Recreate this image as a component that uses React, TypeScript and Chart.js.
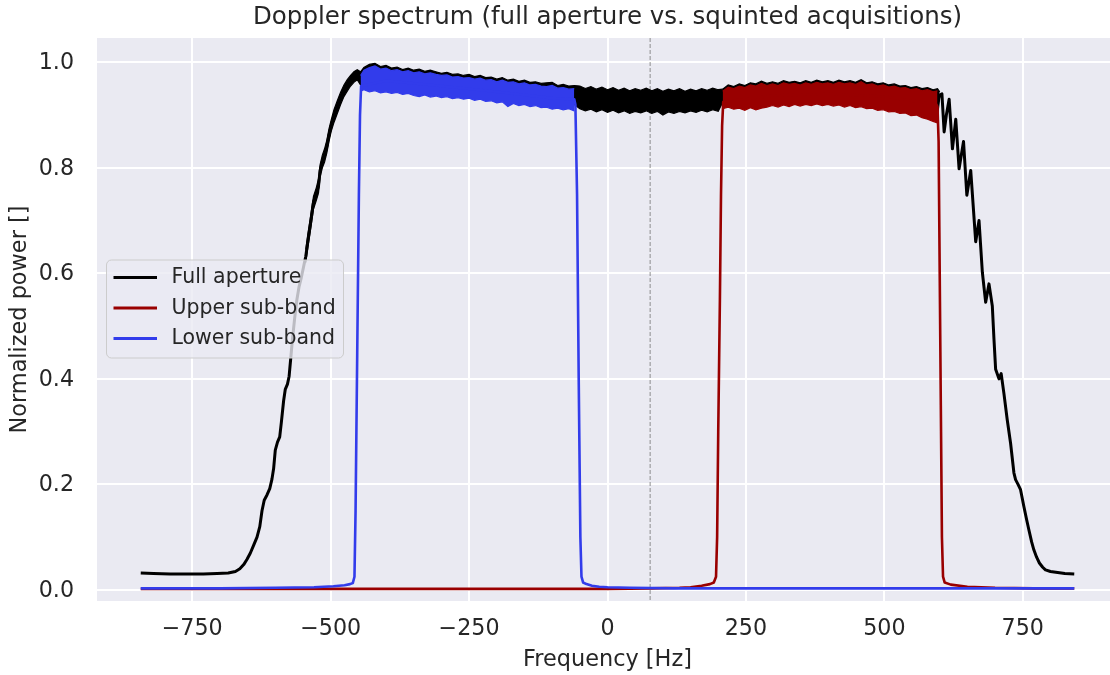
import React, { useEffect, useRef } from 'react';
import { Chart, registerables } from 'chart.js';

Chart.register(...registerables);

const FONT = '"DejaVu Sans", sans-serif';
const TEXT = '#262626';

const titleText = 'Doppler spectrum (full aperture vs. squinted acquisitions)';
const xLabel = 'Frequency [Hz]';
const yLabel = 'Normalized power []';
const xTicks = [-750, -500, -250, 0, 250, 500, 750];
const yTicks = [0.0, 0.2, 0.4, 0.6, 0.8, 1.0];
const markerFreq = 77;

const seriesNames = ['Full aperture', 'Upper sub-band', 'Lower sub-band'];
const seriesColors = ['#000000', '#990000', '#323ceb'];

// Full aperture: main trace
const fullFreq = [-843,-820,-790,-760,-730,-705,-685,-672,-664,-657,-651,-645,-639,-633,-628,-624,-620,-615,-610,-606,-603,-600,-596,-592,-589,-585,-582,-578,-575,-572,-569,-565,-561,-557,-553,-549,-545,-541,-537,-534,-531,-526,-522,-519,-515,-511,-507,-503,-499,-494,-488,-482,-476,-470,-464,-458,-452,-446,-440,-400,-300,-200,-100,-60,-50,0,100,200,300,400,500,596,600,604,608,612,617,623,629,635,643,649,656,665,671,677,683,689,695,698,701,707,711,716,722,728,734,737,741,746,752,757,761,766,770,775,780,786,791,800,813,826,843];
const fullPower = [0.032,0.031,0.030,0.030,0.030,0.031,0.032,0.035,0.040,0.048,0.058,0.070,0.085,0.100,0.120,0.150,0.170,0.180,0.192,0.210,0.230,0.265,0.280,0.290,0.318,0.358,0.380,0.390,0.405,0.440,0.475,0.515,0.550,0.575,0.592,0.612,0.632,0.662,0.690,0.712,0.735,0.750,0.765,0.795,0.812,0.823,0.840,0.862,0.880,0.898,0.915,0.932,0.946,0.956,0.965,0.972,0.977,0.980,0.972,0.968,0.958,0.948,0.938,0.932,0.932,0.928,0.925,0.928,0.937,0.940,0.936,0.925,0.938,0.940,0.868,0.900,0.930,0.836,0.892,0.798,0.850,0.748,0.795,0.660,0.700,0.602,0.545,0.580,0.538,0.475,0.418,0.400,0.410,0.372,0.322,0.278,0.222,0.209,0.201,0.190,0.158,0.133,0.114,0.091,0.076,0.062,0.051,0.043,0.038,0.035,0.033,0.031,0.030];

// Full aperture: noise envelope, segment by segment
const riseFreq = [-545,-541,-537,-534,-531,-526,-522,-519,-515,-511,-507,-503,-499,-494,-488,-482,-476,-470,-464,-458,-452];
const riseUpper = [0.645,0.676,0.703,0.725,0.746,0.762,0.779,0.806,0.824,0.836,0.852,0.874,0.891,0.910,0.927,0.943,0.957,0.967,0.975,0.982,0.986];
const riseLower = [0.620,0.650,0.678,0.700,0.722,0.738,0.752,0.783,0.800,0.811,0.828,0.850,0.869,0.886,0.903,0.920,0.935,0.945,0.955,0.962,0.967];

const lowBandFreq = [-446,-440,-430,-420,-410,-400,-390,-380,-370,-360,-350,-340,-330,-320,-310,-300,-290,-280,-270,-260,-250,-240,-230,-220,-210,-200,-190,-180,-170,-160,-150,-140,-130,-120,-110,-100,-90,-80,-70,-60];
const fullUpperLow = [0.982,0.990,0.996,0.998,0.992,0.994,0.989,0.991,0.986,0.989,0.985,0.987,0.983,0.985,0.982,0.979,0.981,0.977,0.978,0.975,0.977,0.973,0.975,0.971,0.972,0.968,0.971,0.966,0.968,0.964,0.966,0.962,0.963,0.960,0.961,0.962,0.956,0.958,0.955,0.956];
const fullLowerLow = [0.957,0.960,0.956,0.958,0.954,0.956,0.953,0.955,0.951,0.953,0.949,0.947,0.950,0.946,0.948,0.945,0.947,0.943,0.945,0.942,0.944,0.940,0.942,0.938,0.939,0.935,0.937,0.928,0.934,0.930,0.932,0.928,0.930,0.926,0.927,0.923,0.925,0.922,0.924,0.920];

const midFreq = [-50,-40,-30,-20,-10,0,10,20,30,40,50,60,70,80,90,100,110,120,130,140,150,160,170,180,190,200];
const fullUpperMid = [0.955,0.950,0.954,0.949,0.953,0.948,0.952,0.947,0.951,0.946,0.950,0.947,0.951,0.946,0.950,0.945,0.949,0.946,0.950,0.945,0.949,0.946,0.950,0.947,0.951,0.948];
const fullLowerMid = [0.912,0.908,0.911,0.906,0.910,0.905,0.909,0.904,0.908,0.903,0.907,0.904,0.908,0.903,0.907,0.900,0.906,0.903,0.907,0.904,0.908,0.905,0.909,0.906,0.910,0.907];

const highBandFreq = [208,218,228,238,248,258,268,278,288,298,308,318,328,338,348,358,368,378,388,398,408,418,428,438,448,458,468,478,488,498,508,518,528,538,548,558,568,578,588,596];
const fullUpperHigh = [0.949,0.957,0.954,0.959,0.956,0.961,0.959,0.964,0.960,0.963,0.960,0.965,0.962,0.964,0.961,0.965,0.962,0.966,0.963,0.965,0.962,0.966,0.963,0.965,0.962,0.967,0.961,0.963,0.959,0.961,0.957,0.959,0.955,0.956,0.952,0.954,0.950,0.952,0.948,0.950];
const fullLowerHigh = [0.924,0.927,0.923,0.925,0.921,0.926,0.922,0.925,0.927,0.930,0.927,0.931,0.928,0.932,0.929,0.932,0.930,0.933,0.930,0.932,0.929,0.931,0.927,0.930,0.926,0.928,0.924,0.925,0.921,0.922,0.918,0.919,0.915,0.916,0.911,0.912,0.907,0.904,0.900,0.897];

const endFreq = [600];
const endUpper = [0.944];
const endLower = [0.932];

// Upper sub-band (red)
const upperFreq = [-843,-200,0,80,130,150,170,185,192,196,198,200,203,205,207,209,300,400,500,594,596,598,600,602,604,606,609,620,650,700,770,843];
const upperPower = [0.002,0.002,0.002,0.003,0.004,0.005,0.008,0.011,0.014,0.025,0.100,0.300,0.550,0.750,0.880,0.925,0.937,0.940,0.935,0.920,0.915,0.850,0.600,0.350,0.100,0.025,0.014,0.010,0.006,0.004,0.003,0.003];
const upperBandTop = [0.945,0.953,0.950,0.955,0.952,0.957,0.955,0.960,0.956,0.959,0.956,0.961,0.958,0.960,0.957,0.961,0.958,0.962,0.959,0.961,0.958,0.962,0.959,0.961,0.958,0.963,0.957,0.959,0.955,0.957,0.953,0.955,0.951,0.952,0.948,0.950,0.946,0.948,0.944,0.946];
const upperBandBottom = [0.912,0.915,0.911,0.913,0.909,0.914,0.910,0.913,0.915,0.918,0.915,0.919,0.916,0.920,0.917,0.920,0.918,0.921,0.918,0.920,0.917,0.919,0.915,0.918,0.914,0.916,0.912,0.913,0.909,0.910,0.906,0.907,0.903,0.904,0.899,0.900,0.895,0.892,0.888,0.885];

// Lower sub-band (blue)
const lowerFreq = [-843,-700,-600,-530,-495,-475,-465,-460,-457,-455,-452,-449,-447,-445,-400,-300,-200,-100,-60,-58,-55,-52,-49,-47,-44,-38,-28,-15,0,40,120,843];
const lowerPower = [0.003,0.003,0.004,0.005,0.007,0.009,0.011,0.013,0.025,0.150,0.450,0.750,0.900,0.955,0.965,0.955,0.944,0.932,0.930,0.920,0.750,0.400,0.100,0.025,0.014,0.011,0.008,0.006,0.005,0.004,0.003,0.003];
const lowerBandTop = [0.975,0.985,0.990,0.993,0.987,0.989,0.984,0.986,0.982,0.984,0.980,0.982,0.978,0.980,0.977,0.975,0.976,0.972,0.973,0.970,0.971,0.968,0.970,0.966,0.967,0.963,0.966,0.962,0.963,0.959,0.961,0.957,0.958,0.955,0.954,0.956,0.951,0.952,0.949,0.950];
const lowerBandBottom = [0.945,0.948,0.944,0.946,0.942,0.944,0.941,0.943,0.939,0.941,0.937,0.935,0.938,0.934,0.936,0.933,0.935,0.931,0.933,0.930,0.932,0.928,0.930,0.926,0.927,0.923,0.925,0.916,0.922,0.918,0.920,0.916,0.918,0.914,0.915,0.911,0.913,0.910,0.912,0.908];

const pts = (xs: number[], ys: number[]) => xs.map((x, i) => ({ x, y: ys[i] }));

const fullBandFreq = [...riseFreq, ...lowBandFreq, ...midFreq, ...highBandFreq, ...endFreq];
const fullBandUpper = [...riseUpper, ...fullUpperLow, ...fullUpperMid, ...fullUpperHigh, ...endUpper];
const fullBandLower = [...riseLower, ...fullLowerLow, ...fullLowerMid, ...fullLowerHigh, ...endLower];

function bandPair(xs: number[], top: number[], bottom: number[], color: string, order: number) {
  const common = {
    borderColor: color,
    backgroundColor: color,
    borderWidth: 1.2,
    pointRadius: 0,
    tension: 0,
    order,
  };
  return [
    { ...common, data: pts(xs, top), fill: '+1' },
    { ...common, data: pts(xs, bottom), fill: false },
  ];
}

function lineSet(label: string, xs: number[], ys: number[], color: string, width: number, order: number) {
  return {
    label,
    legend: true,
    data: pts(xs, ys),
    borderColor: color,
    backgroundColor: color,
    borderWidth: width,
    borderJoinStyle: 'round',
    pointRadius: 0,
    tension: 0,
    fill: false,
    order,
  };
}

const bgPlugin = {
  id: 'bgPlugin',
  beforeDraw(chart: any) {
    const { ctx, chartArea: a, width, height } = chart;
    ctx.save();
    ctx.fillStyle = '#ffffff';
    ctx.fillRect(0, 0, width, height);
    ctx.fillStyle = '#EAEAF2';
    ctx.fillRect(a.left, a.top, a.right - a.left, a.bottom - a.top);
    ctx.restore();
  },
};

const markerPlugin = {
  id: 'markerPlugin',
  beforeDatasetsDraw(chart: any) {
    const { ctx, chartArea: a } = chart;
    const x = chart.scales.x.getPixelForValue(markerFreq);
    ctx.save();
    ctx.strokeStyle = 'rgba(110,110,110,0.75)';
    ctx.lineWidth = 1;
    ctx.setLineDash([4, 2]);
    ctx.beginPath();
    ctx.moveTo(x, a.top);
    ctx.lineTo(x, a.bottom);
    ctx.stroke();
    ctx.restore();
  },
};

const titlePlugin = {
  id: 'titlePlugin',
  afterDraw(chart: any) {
    const { ctx, chartArea: a } = chart;
    ctx.save();
    ctx.font = `24.5px ${FONT}`;
    ctx.fillStyle = TEXT;
    ctx.textAlign = 'center';
    ctx.textBaseline = 'middle';
    ctx.fillText(titleText, (a.left + a.right) / 2, 17.5);
    ctx.restore();
  },
};

const legendPlugin = {
  id: 'legendPlugin',
  afterDatasetsDraw(chart: any) {
    const { ctx, chartArea: a } = chart;
    const items = chart.data.datasets.filter((d: any) => d.legend);
    const bx = a.left + 9.5;
    const by = a.top + 222;
    const bw = 237;
    const bh = 98;
    ctx.save();
    ctx.beginPath();
    ctx.roundRect(bx, by, bw, bh, 5);
    ctx.fillStyle = 'rgba(234,234,242,0.8)';
    ctx.fill();
    ctx.strokeStyle = '#cccccc';
    ctx.lineWidth = 1;
    ctx.stroke();
    ctx.font = `20.5px ${FONT}`;
    ctx.textBaseline = 'middle';
    ctx.textAlign = 'left';
    items.forEach((d: any, i: number) => {
      const y = by + 17.5 + i * 30.5;
      ctx.strokeStyle = d.borderColor;
      ctx.lineWidth = 2.8;
      ctx.beginPath();
      ctx.moveTo(bx + 7, y);
      ctx.lineTo(bx + 50.5, y);
      ctx.stroke();
      ctx.fillStyle = TEXT;
      ctx.fillText(d.label, bx + 65, y + 0.5);
    });
    ctx.restore();
  },
};

export default function App() {
  const ref = useRef<HTMLCanvasElement>(null);

  useEffect(() => {
    const datasets: any[] = [
      ...bandPair(fullBandFreq, fullBandUpper, fullBandLower, seriesColors[0], 10),
      lineSet(seriesNames[0], fullFreq, fullPower, seriesColors[0], 3.0, 9),
      ...bandPair(highBandFreq, upperBandTop, upperBandBottom, seriesColors[1], 8),
      lineSet(seriesNames[1], upperFreq, upperPower, seriesColors[1], 2.6, 7),
      ...bandPair(lowBandFreq, lowerBandTop, lowerBandBottom, seriesColors[2], 6),
      lineSet(seriesNames[2], lowerFreq, lowerPower, seriesColors[2], 2.6, 5),
    ];

    const chart = new Chart(ref.current as HTMLCanvasElement, {
      type: 'line',
      data: { datasets },
      options: {
        responsive: false,
        animation: false,
        devicePixelRatio: 1,
        events: [],
        layout: { padding: { top: 38, left: 0, right: 0, bottom: 0 } },
        plugins: {
          legend: { display: false },
          title: { display: false },
          tooltip: { enabled: false },
        },
        scales: {
          x: {
            type: 'linear',
            min: -922,
            max: 922,
            afterFit: (s: any) => { s.height = 74; },
            afterBuildTicks: (s: any) => { s.ticks = xTicks.map((value) => ({ value })); },
            grid: { color: '#ffffff', lineWidth: 2, drawTicks: false },
            border: { display: false },
            ticks: {
              padding: 15,
              color: TEXT,
              font: { family: FONT, size: 22.2 },
              maxRotation: 0,
              autoSkip: false,
              callback: (v: any) => (v < 0 ? '\u2212' + Math.abs(v) : String(v)),
            },
            title: {
              display: true,
              text: xLabel,
              color: TEXT,
              font: { family: FONT, size: 22.4 },
              padding: { top: 0, bottom: 1 },
            },
          },
          y: {
            type: 'linear',
            min: -0.021,
            max: 1.046,
            afterFit: (s: any) => { s.width = 97; },
            afterBuildTicks: (s: any) => { s.ticks = yTicks.map((value) => ({ value })); },
            grid: { color: '#ffffff', lineWidth: 2, drawTicks: false },
            border: { display: false },
            ticks: {
              padding: 23,
              labelOffset: 1,
              color: TEXT,
              font: { family: FONT, size: 22.2 },
              autoSkip: false,
              callback: (v: any) => Number(v).toFixed(1),
            },
            title: {
              display: true,
              text: yLabel,
              color: TEXT,
              font: { family: FONT, size: 22.4 },
              padding: { top: 6.5, bottom: 0 },
            },
          },
        },
      } as any,
      plugins: [bgPlugin, markerPlugin, titlePlugin, legendPlugin],
    });
    return () => chart.destroy();
  }, []);

  return (
    <div style={{ position: 'fixed', left: 0, top: 0, width: 1110, height: 675, overflow: 'hidden', background: '#fff' }}>
      <canvas ref={ref} width={1118} height={675} style={{ display: 'block', width: 1118, height: 675 }} />
    </div>
  );
}
